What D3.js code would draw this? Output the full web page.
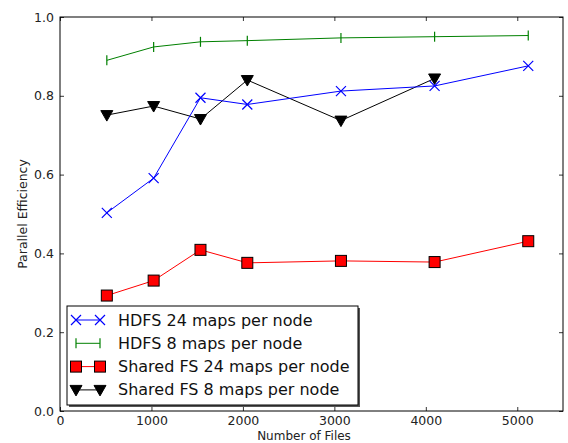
<!DOCTYPE html>
<html>
<head>
<meta charset="utf-8">
<script src="https://cdn.jsdelivr.net/npm/d3@7"></script>
<style>
  html, body { margin: 0; padding: 0; background: #fff; }
  svg { display: block; font-family: "DejaVu Sans", sans-serif; }
</style>
</head>
<body>
<svg id="chart" width="568" height="443"></svg>
<script>
// Number of files processed in each run
const files = [512, 1024, 1536, 2048, 3072, 4096, 5120];

// Parallel efficiency per configuration
const hdfs24 = [0.503, 0.591, 0.795, 0.778, 0.812, 0.825, 0.876];
const hdfs8 = [0.890, 0.924, 0.937, 0.940, 0.947, 0.950, 0.953];
const shared24 = [0.293, 0.331, 0.409, 0.376, 0.381, 0.378, 0.431];
const shared8 = [0.751, 0.774, 0.741, 0.840, 0.737, 0.844];

const xTicks = [0, 1000, 2000, 3000, 4000, 5000];
const yTicks = [0.0, 0.2, 0.4, 0.6, 0.8, 1.0];

const seriesNames = [
  "HDFS 24 maps per node",
  "HDFS 8 maps per node",
  "Shared FS 24 maps per node",
  "Shared FS 8 maps per node"
];

const svg = d3.select("#chart");
const L = 60, R = 563, T = 17, B = 411;

const x = d3.scaleLinear().domain([0, 5500]).range([L, R]);
const y = d3.scaleLinear().domain([0, 1]).range([B, T]);

// Axes with inward ticks on all four sides
const tickLen = 4;
svg.append("g").attr("transform", `translate(0,${B})`)
  .call(d3.axisBottom(x).tickValues(xTicks).tickSizeInner(-tickLen).tickSizeOuter(0).tickPadding(5).tickFormat(d3.format("d")));
svg.append("g").attr("transform", `translate(0,${T})`)
  .call(d3.axisTop(x).tickValues(xTicks).tickSizeInner(-tickLen).tickSizeOuter(0).tickFormat(""));
svg.append("g").attr("transform", `translate(${L},0)`)
  .call(d3.axisLeft(y).tickValues(yTicks).tickSizeInner(-tickLen).tickSizeOuter(0).tickPadding(6).tickFormat(d3.format(".1f")));
svg.append("g").attr("transform", `translate(${R},0)`)
  .call(d3.axisRight(y).tickValues(yTicks).tickSizeInner(-tickLen).tickSizeOuter(0).tickFormat(""));

svg.selectAll(".domain").remove();
svg.selectAll(".tick line").attr("stroke", "#000").attr("stroke-width", 0.8);
svg.selectAll(".tick text").attr("font-size", 12.5).attr("fill", "#222")
  .attr("font-family", "DejaVu Sans, sans-serif");

svg.append("rect").attr("x", L).attr("y", T).attr("width", R - L).attr("height", B - T)
  .attr("fill", "none").attr("stroke", "#000").attr("stroke-width", 1);

// Axis titles
svg.append("text").attr("x", 304).attr("y", 439.5).attr("text-anchor", "middle")
  .attr("font-size", 12).attr("fill", "#222").text("Number of Files");
svg.append("text").attr("transform", `translate(27,${(T + B) / 2}) rotate(-90)`)
  .attr("text-anchor", "middle").attr("font-size", 12.5).attr("fill", "#222").text("Parallel Efficiency");

// Marker drawers
function markX(g, cx, cy, color) {
  const s = 5;
  g.append("path").attr("d", `M${cx - s},${cy - s}L${cx + s},${cy + s}M${cx - s},${cy + s}L${cx + s},${cy - s}`)
    .attr("stroke", color).attr("stroke-width", 1.2).attr("fill", "none");
}
function markVLine(g, cx, cy, color) {
  g.append("path").attr("d", `M${cx},${cy - 5}L${cx},${cy + 5}`)
    .attr("stroke", color).attr("stroke-width", 1.2);
}
function markSquare(g, cx, cy) {
  g.append("rect").attr("x", cx - 5.5).attr("y", cy - 5.5).attr("width", 11).attr("height", 11)
    .attr("fill", "#ff0000").attr("stroke", "#000").attr("stroke-width", 1);
}
function markTri(g, cx, cy) {
  const s = 6;
  g.append("path").attr("d", `M${cx - s},${cy - s * 0.75}L${cx + s},${cy - s * 0.75}L${cx},${cy + s}Z`)
    .attr("fill", "#000").attr("stroke", "#000").attr("stroke-width", 1);
}

const series = [
  { name: seriesNames[0], vals: hdfs24, color: "#0000ff", mark: (g, a, b) => markX(g, a, b, "#0000ff") },
  { name: seriesNames[1], vals: hdfs8, color: "#008000", mark: (g, a, b) => markVLine(g, a, b, "#008000") },
  { name: seriesNames[2], vals: shared24, color: "#ff0000", mark: (g, a, b) => markSquare(g, a, b) },
  { name: seriesNames[3], vals: shared8, color: "#000000", mark: (g, a, b) => markTri(g, a, b) }
];

const line = d3.line().x(d => x(d[0])).y(d => y(d[1]));

// Draw order: shared FS first, HDFS on top
[series[3], series[2], series[1], series[0]].forEach(s => {
  const pts = s.vals.map((v, i) => [files[i], v]);
  const g = svg.append("g");
  g.append("path").attr("d", line(pts)).attr("fill", "none")
    .attr("stroke", s.color).attr("stroke-width", 1);
  pts.forEach(p => s.mark(g, x(p[0]), y(p[1])));
});

// Legend
const lg = svg.append("g");
const lx = 67, ly = 306, lw = 291, lh = 99;
lg.append("rect").attr("x", lx + 2).attr("y", ly + 2).attr("width", lw).attr("height", lh)
  .attr("fill", "#555");
lg.append("rect").attr("x", lx).attr("y", ly).attr("width", lw).attr("height", lh)
  .attr("fill", "#fff").attr("stroke", "#000").attr("stroke-width", 1);
series.forEach((s, i) => {
  const cy = ly + 14 + i * 23.3;
  lg.append("line").attr("x1", 76).attr("x2", 100).attr("y1", cy).attr("y2", cy)
    .attr("stroke", s.color).attr("stroke-width", 1);
  s.mark(lg, 76, cy);
  s.mark(lg, 100, cy);
  lg.append("text").attr("x", 118).attr("y", cy + 5.5).attr("font-size", 16).attr("fill", "#111")
    .text(s.name);
});
</script>
</body>
</html>
